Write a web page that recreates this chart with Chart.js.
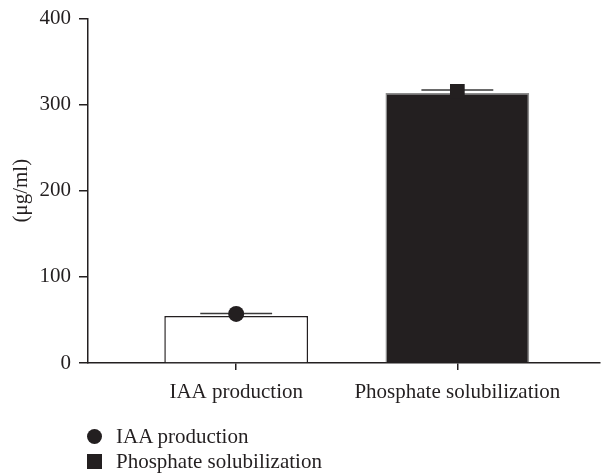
<!DOCTYPE html>
<html>
<head>
<meta charset="utf-8">
<title>IAA production and phosphate solubilization</title>
<script src="https://cdn.jsdelivr.net/npm/chart.js@4.4.1/dist/chart.umd.min.js"></script>
<style>
    html, body { margin: 0; padding: 0; background: #ffffff; overflow: hidden; }
    #wrap { position: relative; width: 602px; height: 475px; overflow: hidden; }
    #legend {
        position: absolute; left: 87px; top: 424px;
        margin: 0; padding: 0; list-style: none;
        font: 21px 'Liberation Serif', serif; color: #231f20;
    }
    #legend li { display: flex; align-items: center; height: 25px; line-height: 25px; }
    #legend .mark { width: 15px; height: 15px; background: #231f20; margin-right: 14px; }
    #legend .circle { border-radius: 50%; }
</style>
</head>
<body>
<div id="wrap">
    <canvas id="main-chart"></canvas>
    <ul id="legend"></ul>
</div>
<script>
// Datos (µg/ml)
const categories = ['IAA production', 'Phosphate solubilization'];
const barValues = [54.5, 313.5];
const markerValues = [57, 315.5];
const errorTop = [57.5, 317];
const yTicks = [0, 100, 200, 300, 400];

const colors = {
    ink: '#231f20',
    barEdge: '#8c8c8c',
    cap: '#3a3a3a',
    white: '#ffffff'
};

const font = { family: "'Liberation Serif', serif", size: 21 };

// Dibuja la barra de error (solo el lado superior) sobre cada barra
const errorBarPlugin = {
    id: 'errorBars',
    afterDatasetDraw(chart, args) {
        if (args.index !== 0) return;
        const { ctx, scales: { x, y } } = chart;
        const bars = args.meta.data;
        ctx.save();
        ctx.strokeStyle = colors.cap;
        ctx.lineWidth = 1.5;
        errorTop.forEach((top, i) => {
            const cx = x.getPixelForValue(i);
            const half = bars[i].width / 4;
            const yTop = y.getPixelForValue(top);
            const yMid = y.getPixelForValue(markerValues[i]);
            ctx.beginPath();
            ctx.moveTo(cx, yMid);
            ctx.lineTo(cx, yTop);
            ctx.moveTo(cx - half, yTop);
            ctx.lineTo(cx + half, yTop);
            ctx.stroke();
        });
        ctx.restore();
    }
};

const chart = new Chart(document.getElementById('main-chart'), {
    type: 'bar',
    data: {
        datasets: [
            {
                label: 'bars',
                data: barValues.map((v, i) => ({ x: i, y: v })),
                backgroundColor: [colors.white, colors.ink],
                borderColor: [colors.ink, colors.barEdge],
                borderWidth: 1.5,
                categoryPercentage: 1,
                barPercentage: 0.65,
                order: 2
            },
            {
                type: 'line',
                label: categories[0],
                data: [{ x: 0, y: markerValues[0] }],
                showLine: false,
                pointStyle: 'circle',
                pointRadius: 8,
                pointBorderWidth: 0,
                pointBackgroundColor: colors.ink,
                order: 1
            },
            {
                type: 'line',
                label: categories[1],
                data: [{ x: 1, y: markerValues[1] }],
                showLine: false,
                pointStyle: 'rect',
                pointRadius: 10.4,
                pointBorderWidth: 0,
                pointBackgroundColor: colors.ink,
                order: 1
            }
        ]
    },
    options: {
        responsive: true,
        maintainAspectRatio: false,
        animation: false,
        layout: {
            autoPadding: false,
            padding: { top: 18.5, right: 2, left: 0, bottom: 0 }
        },
        plugins: {
            legend: { display: false },
            tooltip: { enabled: false }
        },
        scales: {
            x: {
                type: 'linear',
                offset: false,
                min: -0.67,
                max: 1.645,
                afterBuildTicks: scale => {
                    scale.ticks = categories.map((c, i) => ({ value: i }));
                },
                afterFit: scale => {
                    scale.height = 112;
                    scale.paddingLeft = 0;
                    scale.paddingRight = 0;
                },
                ticks: {
                    callback: value => categories[value] ?? '',
                    font: font,
                    color: colors.ink,
                    padding: 10,
                    maxRotation: 0,
                    autoSkip: false
                },
                grid: {
                    offset: false,
                    drawOnChartArea: false,
                    tickLength: 7,
                    color: colors.ink,
                    lineWidth: 1.5
                },
                border: { color: colors.ink, width: 1.5 }
            },
            y: {
                min: yTicks[0],
                max: yTicks[yTicks.length - 1],
                afterBuildTicks: scale => {
                    scale.ticks = yTicks.map(v => ({ value: v }));
                },
                afterFit: scale => {
                    scale.width = 88;
                    scale.paddingTop = 0;
                },
                ticks: { font: font, color: colors.ink, padding: 8 },
                grid: { drawOnChartArea: false, tickLength: 9, color: colors.ink, lineWidth: 1.5 },
                border: { color: colors.ink, width: 1.5 },
                title: {
                    display: true,
                    text: '(μg/ml)',
                    font: font,
                    color: colors.ink,
                    padding: { top: 9, bottom: 0 }
                }
            }
        }
    },
    plugins: [errorBarPlugin]
});

// Leyenda HTML apilada en vertical, generada desde los datasets de marcadores
const legendEl = document.getElementById('legend');
chart.data.datasets.filter(ds => ds.type === 'line').forEach(ds => {
    const li = document.createElement('li');
    const mark = document.createElement('span');
    mark.className = 'mark' + (ds.pointStyle === 'circle' ? ' circle' : '');
    li.appendChild(mark);
    li.appendChild(document.createTextNode(ds.label));
    legendEl.appendChild(li);
});
</script>
</body>
</html>
